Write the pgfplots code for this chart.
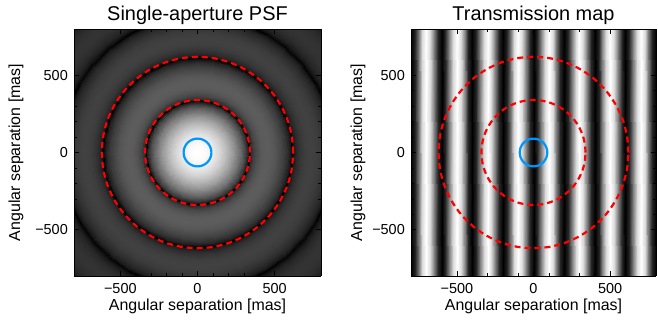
\documentclass[border=0pt]{standalone}
\usepackage{fontspec}
\setmainfont{Liberation Sans}
\usepackage{pgfplots}
\usepackage{pgfplotstable}
\pgfplotsset{compat=1.18}
\definecolor{cblue}{RGB}{0,150,255}
\definecolor{cred}{RGB}{255,0,0}

% radial profile of the PSF (display grey level vs radius in mas), two angular edges a=0,1
\pgfplotstableread{
r a g
0 0 1
17.5 0 .998
35.0 0 .990
52.5 0 .978
69.9 0 .960
87.4 0 .938
104.9 0 .911
122.4 0 .880
139.9 0 .844
157.4 0 .804
174.9 0 .759
192.3 0 .711
209.8 0 .658
227.3 0 .602
244.8 0 .541
262.3 0 .476
279.8 0 .404
297.3 0 .325
314.7 0 .230
332.2 0 .082
335.0 0 0
349.7 0 .182
367.2 0 .257
384.7 0 .304
402.2 0 .334
419.7 0 .353
437.2 0 .362
454.6 0 .363
472.1 0 .358
489.6 0 .346
507.1 0 .328
524.6 0 .304
542.1 0 .274
559.6 0 .238
577.0 0 .195
594.5 0 .139
612.0 0 .037
613.4 0 0
629.5 0 .123
647.0 0 .172
664.5 0 .205
682.0 0 .227
699.4 0 .242
716.9 0 .251
734.4 0 .254
751.9 0 .252
769.4 0 .245
786.9 0 .234
804.4 0 .217
821.8 0 .197
839.3 0 .171
856.8 0 .138
874.3 0 .093
889.5 0 0
891.8 0 .036
909.3 0 .103
926.8 0 .138
944.2 0 .162
961.7 0 .179
979.2 0 .191
996.7 0 .198
1014.2 0 .200
1031.7 0 .198
1049.2 0 .193
1066.6 0 .184
1084.1 0 .171
1101.6 0 .154
1119.1 0 .132
1136.6 0 .104
1154.1 0 .064
0 1 1
17.5 1 .998
35.0 1 .990
52.5 1 .978
69.9 1 .960
87.4 1 .938
104.9 1 .911
122.4 1 .880
139.9 1 .844
157.4 1 .804
174.9 1 .759
192.3 1 .711
209.8 1 .658
227.3 1 .602
244.8 1 .541
262.3 1 .476
279.8 1 .404
297.3 1 .325
314.7 1 .230
332.2 1 .082
335.0 1 0
349.7 1 .182
367.2 1 .257
384.7 1 .304
402.2 1 .334
419.7 1 .353
437.2 1 .362
454.6 1 .363
472.1 1 .358
489.6 1 .346
507.1 1 .328
524.6 1 .304
542.1 1 .274
559.6 1 .238
577.0 1 .195
594.5 1 .139
612.0 1 .037
613.4 1 0
629.5 1 .123
647.0 1 .172
664.5 1 .205
682.0 1 .227
699.4 1 .242
716.9 1 .251
734.4 1 .254
751.9 1 .252
769.4 1 .245
786.9 1 .234
804.4 1 .217
821.8 1 .197
839.3 1 .171
856.8 1 .138
874.3 1 .093
889.5 1 0
891.8 1 .036
909.3 1 .103
926.8 1 .138
944.2 1 .162
961.7 1 .179
979.2 1 .191
996.7 1 .198
1014.2 1 .200
1031.7 1 .198
1049.2 1 .193
1066.6 1 .184
1084.1 1 .171
1101.6 1 .154
1119.1 1 .132
1136.6 1 .104
1154.1 1 .064
}\psf

% transmission fringes (grey level vs x), two rows in y
\pgfplotstableread{
x y g
-800 -800 0
-775 -800 .146
-750 -800 .5
-725 -800 .854
-700 -800 1
-675 -800 .854
-650 -800 .5
-625 -800 .146
-600 -800 0
-575 -800 .146
-550 -800 .5
-525 -800 .854
-500 -800 1
-475 -800 .854
-450 -800 .5
-425 -800 .146
-400 -800 0
-375 -800 .146
-350 -800 .5
-325 -800 .854
-300 -800 1
-275 -800 .854
-250 -800 .5
-225 -800 .146
-200 -800 0
-175 -800 .146
-150 -800 .5
-125 -800 .854
-100 -800 1
-75 -800 .854
-50 -800 .5
-25 -800 .146
0 -800 0
25 -800 .146
50 -800 .5
75 -800 .854
100 -800 1
125 -800 .854
150 -800 .5
175 -800 .146
200 -800 0
225 -800 .146
250 -800 .5
275 -800 .854
300 -800 1
325 -800 .854
350 -800 .5
375 -800 .146
400 -800 0
425 -800 .146
450 -800 .5
475 -800 .854
500 -800 1
525 -800 .854
550 -800 .5
575 -800 .146
600 -800 0
625 -800 .146
650 -800 .5
675 -800 .854
700 -800 1
725 -800 .854
750 -800 .5
775 -800 .146
800 -800 0
-800 800 0
-775 800 .146
-750 800 .5
-725 800 .854
-700 800 1
-675 800 .854
-650 800 .5
-625 800 .146
-600 800 0
-575 800 .146
-550 800 .5
-525 800 .854
-500 800 1
-475 800 .854
-450 800 .5
-425 800 .146
-400 800 0
-375 800 .146
-350 800 .5
-325 800 .854
-300 800 1
-275 800 .854
-250 800 .5
-225 800 .146
-200 800 0
-175 800 .146
-150 800 .5
-125 800 .854
-100 800 1
-75 800 .854
-50 800 .5
-25 800 .146
0 800 0
25 800 .146
50 800 .5
75 800 .854
100 800 1
125 800 .854
150 800 .5
175 800 .146
200 800 0
225 800 .146
250 800 .5
275 800 .854
300 800 1
325 800 .854
350 800 .5
375 800 .146
400 800 0
425 800 .146
450 800 .5
475 800 .854
500 800 1
525 800 .854
550 800 .5
575 800 .146
600 800 0
625 800 .146
650 800 .5
675 800 .854
700 800 1
725 800 .854
750 800 .5
775 800 .146
800 800 0
}\fringe

% unit circle (third column: drawing level above the images)
\pgfplotstableread{
cx cy cz
1 0 1.5
0.9848 0.1736 1.5
0.9397 0.3420 1.5
0.8660 0.5 1.5
0.7660 0.6428 1.5
0.6428 0.7660 1.5
0.5 0.8660 1.5
0.3420 0.9397 1.5
0.1736 0.9848 1.5
0 1 1.5
-0.1736 0.9848 1.5
-0.3420 0.9397 1.5
-0.5 0.8660 1.5
-0.6428 0.7660 1.5
-0.7660 0.6428 1.5
-0.8660 0.5 1.5
-0.9397 0.3420 1.5
-0.9848 0.1736 1.5
-1 0 1.5
-0.9848 -0.1736 1.5
-0.9397 -0.3420 1.5
-0.8660 -0.5 1.5
-0.7660 -0.6428 1.5
-0.6428 -0.7660 1.5
-0.5 -0.8660 1.5
-0.3420 -0.9397 1.5
-0.1736 -0.9848 1.5
0 -1 1.5
0.1736 -0.9848 1.5
0.3420 -0.9397 1.5
0.5 -0.8660 1.5
0.6428 -0.7660 1.5
0.7660 -0.6428 1.5
0.8660 -0.5 1.5
0.9397 -0.3420 1.5
0.9848 -0.1736 1.5
1 0 1.5
}\unitcircle

\pgfplotsset{
  panel/.style={
    height=247bp, scale only axis,
    view={0}{90},
    xmin=-800, xmax=800, ymin=-800, ymax=800, zmin=0, zmax=2,
    xtick={-500,0,500}, ytick={-500,0,500}, ztick=\empty,
    xticklabels={−500,0,500}, yticklabels={−500,0,500},
    minor x tick num=4, minor y tick num=4,
    tick align=inside,
    major tick length=5bp, minor tick length=3bp,
    tick style={black, line width=0.6bp},
    axis line style={black, line width=0.8bp},
    ticklabel style={font=\fontsize{14.5}{14.5}\selectfont},
    xticklabel style={anchor=base, inner sep=0pt, yshift=-17bp},
    yticklabel style={anchor=east, inner sep=0pt, xshift=-6bp},
    every axis x label/.style={at={(axis description cs:0.5,0)}, anchor=base, yshift=-34bp, inner sep=0pt, font=\fontsize{16}{16}\selectfont},
    every axis title/.style={at={(axis description cs:0.5,1)}, anchor=base, yshift=8.3bp, inner sep=0pt, font=\fontsize{20}{20}\selectfont},
    colormap={bw}{gray(0cm)=(0); gray(1cm)=(1)},
    point meta min=0, point meta max=1,
    axis on top,
    xlabel={Angular separation [mas]},
    ylabel={Angular separation [mas]},
  },
}

\begin{document}
\begin{tikzpicture}
\useasboundingbox (0,0) rectangle (658bp,320bp);
\begin{axis}[panel, width=247bp, at={(74bp,44bp)}, anchor=south west,
  title={Single-aperture PSF},
  every axis y label/.style={at={(axis description cs:-0.2186,0.5)}, rotate=90, anchor=base, inner sep=0pt, font=\fontsize{16}{16}\selectfont}]
\pgfplotsinvokeforeach{0,10,...,350}{
  \addplot3[surf, shader=interp, mesh/rows=2] table[x expr={\thisrow{r}*cos(#1+11*\thisrow{a})}, y expr={\thisrow{r}*sin(#1+11*\thisrow{a})}, z=g] {\psf};
}
\addplot3[cred, line width=2.2bp, dash pattern=on 6bp off 4bp, smooth] table[x expr=340*\thisrow{cx}, y expr=340*\thisrow{cy}, z=cz] {\unitcircle};
\addplot3[cred, line width=2.2bp, dash pattern=on 6bp off 4bp, smooth] table[x expr=620*\thisrow{cx}, y expr=620*\thisrow{cy}, z=cz] {\unitcircle};
\addplot3[cblue, line width=2.2bp, smooth] table[x expr=90*\thisrow{cx}, y expr=90*\thisrow{cy}, z=cz] {\unitcircle};
\end{axis}
\begin{axis}[panel, width=245bp, at={(411bp,44bp)}, anchor=south west,
  title={Transmission map},
  every axis y label/.style={at={(axis description cs:-0.2,0.5)}, rotate=90, anchor=base, inner sep=0pt, font=\fontsize{16}{16}\selectfont}]
\addplot3[surf, shader=interp, mesh/rows=2] table[x=x, y=y, z=g] {\fringe};
\addplot3[cred, line width=2.2bp, dash pattern=on 6bp off 4bp, smooth] table[x expr=340*\thisrow{cx}, y expr=340*\thisrow{cy}, z=cz] {\unitcircle};
\addplot3[cred, line width=2.2bp, dash pattern=on 6bp off 4bp, smooth] table[x expr=620*\thisrow{cx}, y expr=620*\thisrow{cy}, z=cz] {\unitcircle};
\addplot3[cblue, line width=2.2bp, smooth] table[x expr=90*\thisrow{cx}, y expr=90*\thisrow{cy}, z=cz] {\unitcircle};
\end{axis}
\end{tikzpicture}
\end{document}
